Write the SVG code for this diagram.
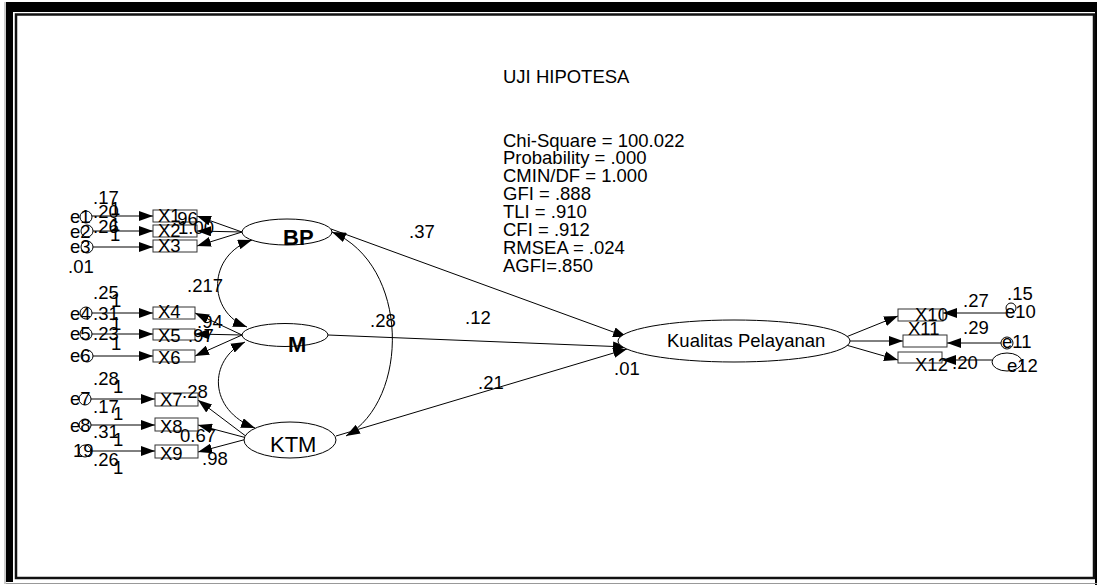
<svg xmlns="http://www.w3.org/2000/svg" width="1097" height="585" viewBox="0 0 1097 585">
<style>
.t{font-family:"Liberation Sans",Arial,sans-serif;font-size:18.5px;fill:#000}
.bd{font-family:"Liberation Sans",Arial,sans-serif;font-size:22px;font-weight:bold;fill:#000}
.lg{font-family:"Liberation Sans",Arial,sans-serif;font-size:22px;fill:#000}
.ln{stroke:#000;stroke-width:1;fill:none}
.ar{stroke:#000;stroke-width:1;fill:none;marker-end:url(#ah)}
.dbl{stroke:#000;stroke-width:1;fill:none;marker-end:url(#ah);marker-start:url(#ah)}
.box{fill:#fff;stroke:#333;stroke-width:1}
.ell{fill:#fff;stroke:#000;stroke-width:1}
.ec{fill:none;stroke:#000;stroke-width:1}
</style>
<defs>
<marker id="ah" viewBox="0 0 14 10" refX="14" refY="5" markerWidth="14" markerHeight="10" markerUnits="userSpaceOnUse" orient="auto-start-reverse">
<path d="M0,0 L14,5 L0,10 z" fill="#000"/>
</marker>
</defs>
<rect width="1097" height="585" fill="#fff"/>
<g id="frame">
<rect x="6" y="2" width="1091" height="10" fill="#000"/>
<rect x="6" y="2" width="7" height="580" fill="#000"/>
<rect x="1095" y="2" width="2" height="583" fill="#000"/>
<line x1="5" y1="2" x2="5" y2="584" stroke="#999" stroke-width="1"/>
<line x1="6" y1="583.5" x2="1097" y2="583.5" stroke="#999" stroke-width="1"/>
<rect x="16" y="14.5" width="1078" height="563.5" fill="none" stroke="#111" stroke-width="2.5"/>
</g>
<g id="title">
<text class="t" x="503" y="83">UJI HIPOTESA</text>
</g>
<g id="fit-stats">
<text class="t" x="503" y="147">Chi-Square = 100.022</text>
<text class="t" x="503" y="164">Probability = .000</text>
<text class="t" x="503" y="182">CMIN/DF = 1.000</text>
<text class="t" x="503" y="200">GFI = .888</text>
<text class="t" x="503" y="218">TLI = .910</text>
<text class="t" x="503" y="236">CFI = .912</text>
<text class="t" x="503" y="254">RMSEA = .024</text>
<text class="t" x="503" y="272">AGFI=.850</text>
</g>
<g id="connectors">
<line class="ar" x1="92" y1="216" x2="153" y2="216"/>
<line class="ar" x1="93" y1="231" x2="153" y2="231"/>
<line class="ar" x1="93" y1="247" x2="153" y2="247"/>
<line class="ar" x1="242" y1="232" x2="197" y2="216"/>
<line class="ar" x1="242" y1="232" x2="197" y2="231"/>
<line class="ar" x1="242" y1="232" x2="197" y2="246"/>
<line class="ar" x1="92" y1="313" x2="153" y2="313"/>
<line class="ar" x1="92" y1="334" x2="153" y2="334"/>
<line class="ar" x1="93" y1="356" x2="153" y2="356"/>
<line class="ar" x1="242" y1="335" x2="195" y2="313"/>
<line class="ar" x1="242" y1="335" x2="195" y2="334"/>
<line class="ar" x1="242" y1="335" x2="195" y2="356"/>
<line class="ar" x1="91" y1="399" x2="155" y2="399"/>
<line class="ar" x1="91" y1="425" x2="155" y2="425"/>
<line class="ar" x1="91" y1="451" x2="155" y2="451"/>
<line class="ar" x1="247" y1="437" x2="198" y2="400"/>
<line class="ar" x1="247" y1="438" x2="198" y2="425"/>
<line class="ar" x1="247" y1="439" x2="198" y2="452"/>
<path class="dbl" d="M252,240 C207,255 207,312 247,327"/>
<path class="dbl" d="M245,342 C208,360 208,410 255,428"/>
<path class="dbl" d="M332,232 C410,265 410,400 346,436"/>
<line class="ar" x1="331" y1="229" x2="627" y2="337"/>
<line class="ar" x1="328" y1="335" x2="627" y2="347"/>
<line class="ar" x1="336" y1="436" x2="627" y2="349"/>
<line class="ar" x1="846" y1="337" x2="898" y2="316"/>
<line class="ar" x1="850" y1="341" x2="903" y2="341"/>
<line class="ar" x1="846" y1="345" x2="898" y2="360"/>
<line class="ar" x1="1006" y1="313" x2="943" y2="313"/>
<line class="ar" x1="1001" y1="343" x2="947" y2="343"/>
<line class="ar" x1="992" y1="360" x2="942" y2="360"/>
</g>
<g id="e1"><circle class="ec" cx="86" cy="217" r="6"/><text class="t" x="70" y="223">e1</text></g>
<g id="e2"><circle class="ec" cx="87" cy="231" r="6"/><text class="t" x="70" y="238">e2</text></g>
<g id="e3"><circle class="ec" cx="87" cy="247" r="6"/><text class="t" x="70" y="253">e3</text></g>
<g id="e4"><circle class="ec" cx="86" cy="313" r="6"/><text class="t" x="70" y="320">e4</text></g>
<g id="e5"><circle class="ec" cx="86" cy="334" r="6"/><text class="t" x="70" y="340">e5</text></g>
<g id="e6"><circle class="ec" cx="87" cy="356" r="6"/><text class="t" x="70" y="362">e6</text></g>
<g id="e7"><circle class="ec" cx="85" cy="399" r="6"/><text class="t" x="70" y="405">e7</text></g>
<g id="e8"><circle class="ec" cx="85" cy="425" r="6"/><text class="t" x="70" y="432">e8</text></g>
<g id="e9"><circle class="ec" cx="85" cy="451" r="6"/><text class="t" x="73" y="457">19</text></g>
<g id="e10"><circle class="ec" cx="1011" cy="308" r="5"/><text class="t" x="1005" y="318">e10</text></g>
<g id="e11"><circle class="ec" cx="1007" cy="343" r="6"/><text class="t" x="1002" y="348">e11</text></g>
<g id="e12"><ellipse class="ec" cx="1007" cy="362" rx="15" ry="9"/><text class="t" x="1007" y="372">e12</text></g>
<g id="X1"><rect class="box" x="153" y="210" width="44" height="12"/><text class="t" x="158" y="222">X1</text></g>
<g id="X2"><rect class="box" x="153" y="225" width="44" height="12"/><text class="t" x="158" y="237">X2</text></g>
<g id="X3"><rect class="box" x="153" y="240" width="44" height="12"/><text class="t" x="158" y="252">X3</text></g>
<g id="X4"><rect class="box" x="153" y="307" width="42" height="12"/><text class="t" x="158" y="318">X4</text></g>
<g id="X5"><rect class="box" x="153" y="329" width="42" height="11"/><text class="t" x="158" y="342">X5</text></g>
<g id="X6"><rect class="box" x="153" y="350" width="42" height="12"/><text class="t" x="158" y="364">X6</text></g>
<g id="X7"><rect class="box" x="155" y="393" width="43" height="13"/><text class="t" x="160" y="406">X7</text></g>
<g id="X8"><rect class="box" x="155" y="418" width="43" height="13"/><text class="t" x="160" y="433">X8</text></g>
<g id="X9"><rect class="box" x="155" y="445" width="43" height="13"/><text class="t" x="160" y="460">X9</text></g>
<g id="X10"><rect class="box" x="898" y="309" width="45" height="12"/><text class="t" x="915" y="321">X10</text></g>
<g id="X11"><rect class="box" x="903" y="335" width="44" height="12"/><text class="t" x="908" y="335">X11</text></g>
<g id="X12"><rect class="box" x="898" y="352" width="44" height="11"/><text class="t" x="915" y="371">X12</text></g>
<g id="BP"><ellipse class="ell" cx="287" cy="232" rx="45" ry="13"/><text class="bd" x="283" y="245">BP</text></g>
<g id="M"><ellipse class="ell" cx="285" cy="335" rx="43" ry="11.5"/><text class="bd" x="288" y="352">M</text></g>
<g id="KTM"><ellipse class="ell" cx="290" cy="440" rx="46" ry="18"/><text class="lg" x="270" y="452">KTM</text></g>
<g id="KP"><ellipse class="ell" cx="734" cy="341" rx="116" ry="21"/><text class="t" x="667" y="347">Kualitas Pelayanan</text></g>
<g id="labels">
<text class="t" x="93" y="204">.17</text>
<text class="t" x="110" y="215">1</text>
<text class="t" x="93" y="218">.20</text>
<text class="t" x="110" y="231">1</text>
<text class="t" x="93" y="233">.26</text>
<text class="t" x="110" y="241">1</text>
<text class="t" x="68" y="273">.01</text>
<text class="t" x="172" y="225">.96</text>
<text class="t" x="178" y="234">1.00</text>
<text class="t" x="93" y="299">.25</text>
<text class="t" x="111" y="307">1</text>
<text class="t" x="93" y="320">.31</text>
<text class="t" x="111" y="330">1</text>
<text class="t" x="93" y="340">.23</text>
<text class="t" x="111" y="350">1</text>
<text class="t" x="197" y="328">.94</text>
<text class="t" x="188" y="342">.97</text>
<text class="t" x="187" y="292">.217</text>
<text class="t" x="93" y="385">.28</text>
<text class="t" x="113" y="393">1</text>
<text class="t" x="93" y="413">.17</text>
<text class="t" x="113" y="420">1</text>
<text class="t" x="93" y="438">.31</text>
<text class="t" x="113" y="446">1</text>
<text class="t" x="93" y="466">.26</text>
<text class="t" x="113" y="474">1</text>
<text class="t" x="182" y="398">.28</text>
<text class="t" x="180" y="442">0.67</text>
<text class="t" x="202" y="465">.98</text>
<text class="t" x="409" y="238">.37</text>
<text class="t" x="465" y="324">.12</text>
<text class="t" x="478" y="389">.21</text>
<text class="t" x="370" y="327">.28</text>
<text class="t" x="614" y="375">.01</text>
<text class="t" x="963" y="307">.27</text>
<text class="t" x="1007" y="300">.15</text>
<text class="t" x="963" y="334">.29</text>
<text class="t" x="952" y="369">.20</text>
</g>
</svg>
